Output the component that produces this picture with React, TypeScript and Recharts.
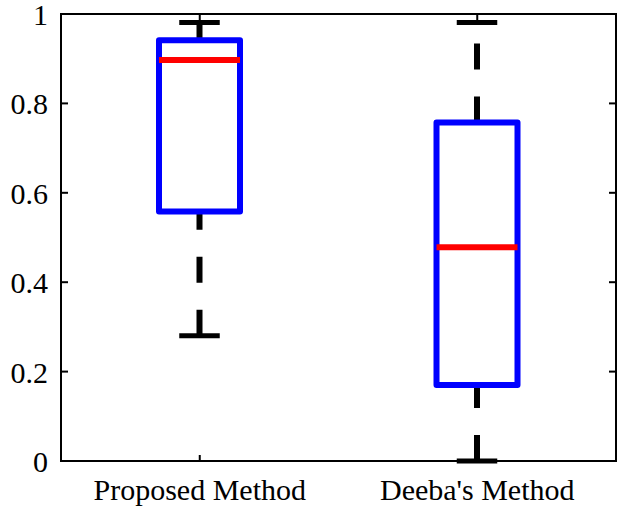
import React from 'react';
import { ComposedChart, Bar, XAxis, YAxis, ReferenceArea } from 'recharts';

const methods = ['Proposed Method', "Deeba's Method"];
const whiskerLow = [0.28, 0.0];
const q1 = [0.558, 0.17];
const median = [0.897, 0.478];
const q3 = [0.941, 0.757];
const whiskerHigh = [0.981, 0.981];
const yTicks = [0, 0.2, 0.4, 0.6, 0.8, 1];

const rows = methods.map((name, i) => ({
    name,
    low: whiskerLow[i],
    q1: q1[i],
    median: median[i],
    q3: q3[i],
    high: whiskerHigh[i],
}));

const W = 619;
const H = 511;
const margin = { top: 14, right: 3, bottom: 0, left: 0 };
const PLOT_RIGHT = W - margin.right;
const PLOT_TOP = margin.top;
const FONT = '"Liberation Serif", "Times New Roman", serif';

const BoxShape = (props: any) => {
    const { x, y, width, height, payload } = props;
    const { low, high } = payload;
    const py = (v: number) => y + (height * (high - v)) / (high - low);
    const cx = x + width / 2;
    const capHalf = width * 0.25;
    return (
        <g>
            {/* whiskers: drawn from the ends toward the box */}
            <line x1={cx} x2={cx} y1={py(low)} y2={py(payload.q1)} stroke="#000" strokeWidth={6} strokeDasharray="26 27" />
            <line x1={cx} x2={cx} y1={py(payload.q3)} y2={py(high)} stroke="#000" strokeWidth={6} strokeDasharray="26 27" />
            <line x1={cx - capHalf} x2={cx + capHalf} y1={py(low)} y2={py(low)} stroke="#000" strokeWidth={5} />
            <line x1={cx - capHalf} x2={cx + capHalf} y1={py(high)} y2={py(high)} stroke="#000" strokeWidth={5} />
            <rect
                x={x}
                y={py(payload.q3)}
                width={width}
                height={py(payload.q1) - py(payload.q3)}
                fill="none"
                stroke="#0000ff"
                strokeWidth={6}
                strokeLinejoin="round"
            />
            <line x1={x} x2={x + width} y1={py(payload.median)} y2={py(payload.median)} stroke="#ff0000" strokeWidth={6} />
        </g>
    );
};

const YTick = (props: any) => {
    const { x, y, payload } = props;
    return (
        <g>
            <line x1={x} x2={x + 7} y1={y} y2={y} stroke="#000" strokeWidth={2} />
            <line x1={PLOT_RIGHT - 7} x2={PLOT_RIGHT} y1={y} y2={y} stroke="#000" strokeWidth={2} />
            <text x={x - 13} y={y} dy={11} textAnchor="end" fontFamily={FONT} fontSize={30} fill="#000">
                {String(payload.value)}
            </text>
        </g>
    );
};

const XTick = (props: any) => {
    const { x, y, payload } = props;
    return (
        <g>
            <line x1={x} x2={x} y1={y} y2={y - 6} stroke="#000" strokeWidth={2} />
            <line x1={x} x2={x} y1={PLOT_TOP} y2={PLOT_TOP + 6} stroke="#000" strokeWidth={2} />
            <text x={x} y={y} dy={39} textAnchor="middle" fontFamily={FONT} fontSize={30} fill="#000">
                {payload.value}
            </text>
        </g>
    );
};

export default function App() {
    return (
        <div style={{ width: W, height: H, background: '#fff' }}>
            <style>{'body{margin:0}'}</style>
            <ComposedChart width={W} height={H} data={rows} margin={margin}>
                <XAxis
                    dataKey="name"
                    axisLine={false}
                    tickLine={false}
                    tickSize={0}
                    tickMargin={0}
                    height={50}
                    tick={<XTick />}
                    interval={0}
                />
                <YAxis
                    domain={[0, 1]}
                    ticks={yTicks}
                    axisLine={false}
                    tickLine={false}
                    tickSize={0}
                    tickMargin={0}
                    width={61}
                    tick={<YTick />}
                />
                <ReferenceArea y1={0} y2={1} fill="none" stroke="#000" strokeWidth={2} />
                <Bar
                    dataKey={(d: any) => [d.low, d.high]}
                    barSize={81}
                    shape={<BoxShape />}
                    isAnimationActive={false}
                />
            </ComposedChart>
        </div>
    );
}
